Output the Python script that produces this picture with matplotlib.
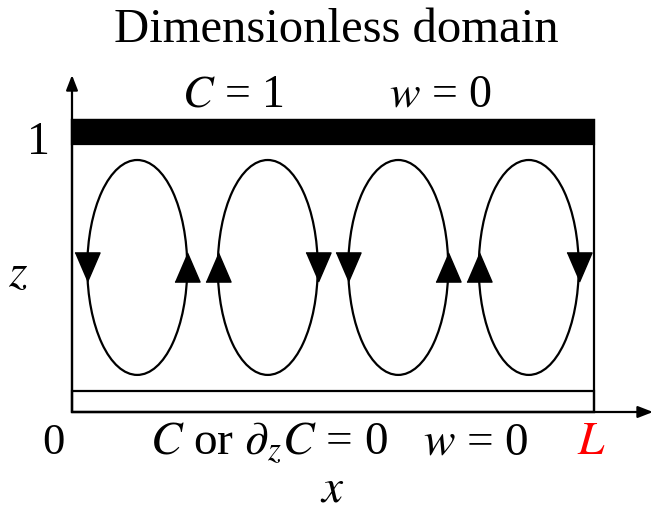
import matplotlib
matplotlib.use("Agg")
import matplotlib.pyplot as plt
from matplotlib.patches import Ellipse, Rectangle
import numpy as np

plt.rcParams['font.family'] = ['Liberation Serif', 'DejaVu Serif']
plt.rcParams['mathtext.fontset'] = 'stix'

# ---- data (dimensionless domain) ----
L = 4.0                      # domain length in cell units
n_cells = 4
cell_centers = [0.5, 1.5, 2.5, 3.5]
# rotation sense of each convection cell: +1 = left side down / right side up
cell_sense = [1, -1, 1, -1]
cell_half_width = 0.383
cell_half_height = 0.368
cell_center_z = 0.495
title = "Dimensionless domain"
top_labels = [r"$C$ = 1", r"$w$ = 0"]
bottom_labels = [r"$C$ or $\partial_z C$ = 0", r"$w$ = 0"]

fig = plt.figure(figsize=(6.63, 5.13), dpi=100)
ax = fig.add_axes([0, 0, 1, 1])
# pixel-consistent scale: 130.5 px per x unit, 292 px per z unit
sx, sz = 130.5, 292.0
ax.set_xlim(-72 / sx, (663 - 72) / sx)
ax.set_ylim(-(513 - 412) / sz, 412 / sz)
ax.axis('off')

lw = 1.6
# domain box
ax.add_patch(Rectangle((0, 0), L, 1.0, fill=False, lw=lw, ec='black'))
# top black bar (C = 1)
ax.add_patch(Rectangle((0, 1.0 - 24 / sz), L, 24 / sz, fc='black', ec='black', lw=lw))
# bottom thin strip
ax.add_patch(Rectangle((0, 0), L, 21 / sz, fill=False, lw=lw, ec='black'))

# axes arrows
ax.annotate('', xy=(0, 1.154), xytext=(0, 0),
            arrowprops=dict(arrowstyle='-|>,head_length=0.9,head_width=0.35', lw=lw, color='black',
                            shrinkA=0, shrinkB=0))
ax.annotate('', xy=((653 - 72) / sx, 0), xytext=(0, 0),
            arrowprops=dict(arrowstyle='-|>,head_length=0.9,head_width=0.35', lw=lw, color='black',
                            shrinkA=0, shrinkB=0))

# convection cells
down = [(-0.86, 1), (0.86, 1), (0, -1)]
up = [(-0.86, -1), (0.86, -1), (0, 1)]
for xc, s in zip(cell_centers, cell_sense):
    ax.add_patch(Ellipse((xc, cell_center_z), 2 * cell_half_width, 2 * cell_half_height,
                         fill=False, lw=lw, ec='black'))
    left_m = down if s > 0 else up
    right_m = up if s > 0 else down
    ax.plot([xc - cell_half_width], [cell_center_z], marker=left_m, ms=21, color='black', ls='none')
    ax.plot([xc + cell_half_width], [cell_center_z], marker=right_m, ms=21, color='black', ls='none')

ax.text((336 - 72) / sx, (412 - 30) / sz, title, ha='center', va='center', fontsize=35)
ax.text((233 - 72) / sx, (412 - 95) / sz, top_labels[0], ha='center', va='center', fontsize=33)
ax.text((440 - 72) / sx, (412 - 95) / sz, top_labels[1], ha='center', va='center', fontsize=33)
ax.text(-0.26, 0.921, "1", ha='center', va='center', fontsize=33)
ax.text(-0.414, 0.469, r"$z$", ha='center', va='center', fontsize=34)
ax.text((53 - 72) / sx, (412 - 443) / sz, "0", ha='center', va='center', fontsize=32)
ax.text((269 - 72) / sx, (412 - 443) / sz, bottom_labels[0], ha='center', va='center', fontsize=34)
ax.text((476 - 72) / sx, (412 - 443) / sz, bottom_labels[1], ha='center', va='center', fontsize=34)
ax.text(L - 0.02, (412 - 443) / sz, r"$L$", ha='center', va='center', fontsize=34, color='red')
ax.text((332 - 72) / sx, (412 - 490) / sz, r"$x$", ha='center', va='center', fontsize=34)

fig.savefig("out.png", dpi=100)
